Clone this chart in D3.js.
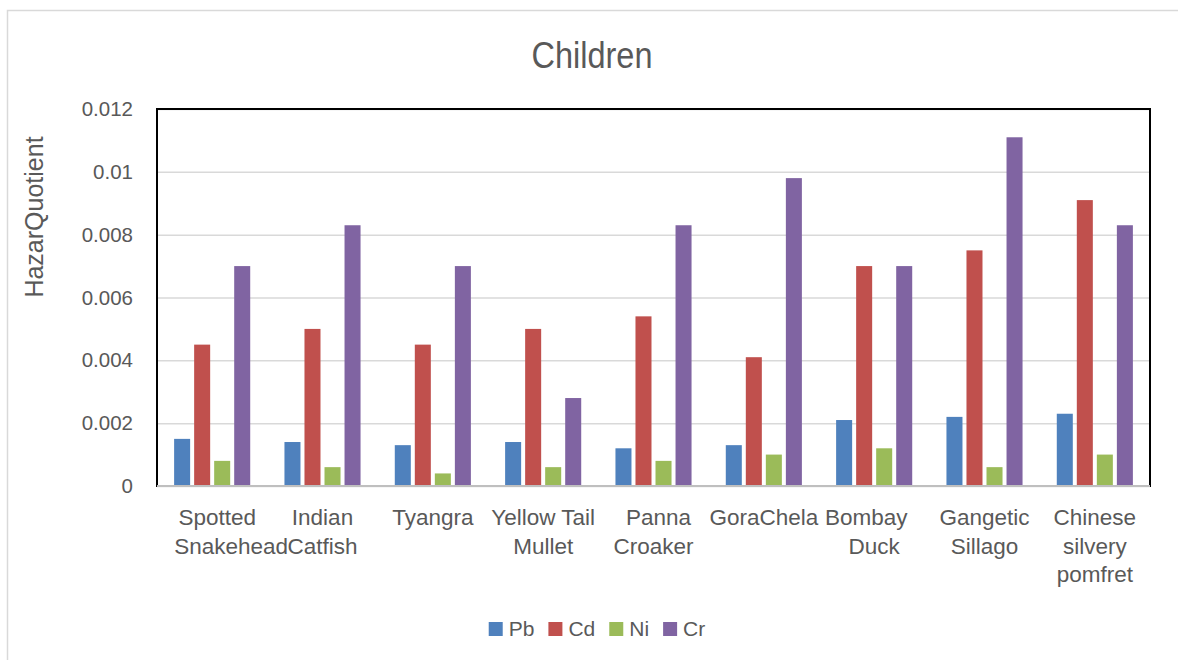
<!DOCTYPE html>
<html>
<head>
<meta charset="utf-8">
<script src="https://cdn.jsdelivr.net/npm/d3@7"></script>
<style>
    body { margin: 0; background: #fff; }
    text { font-family: "Liberation Sans", Arial, sans-serif; fill: #595959; }
</style>
</head>
<body>
<svg id="chart" width="1178" height="660"></svg>
<script>

const categories = ["Spotted Snakehead", "Indian Catfish", "Tyangra", "Yellow Tail Mullet", "Panna Croaker",
    "GoraChela", "Bombay Duck", "Gangetic Sillago", "Chinese silvery pomfret"]
const categoryLines = [["Spotted", "Snakehead"], ["Indian", "Catfish"], ["Tyangra"], ["Yellow Tail", "Mullet"],
    ["Panna", "Croaker"], ["GoraChela"], ["Bombay", "Duck"], ["Gangetic", "Sillago"], ["Chinese", "silvery", "pomfret"]]

const seriesNames = ["Pb", "Cd", "Ni", "Cr"]
const pbValues = [0.0015, 0.0014, 0.0013, 0.0014, 0.0012, 0.0013, 0.0021, 0.0022, 0.0023]
const cdValues = [0.0045, 0.0050, 0.0045, 0.0050, 0.0054, 0.0041, 0.0070, 0.0075, 0.0091]
const niValues = [0.0008, 0.0006, 0.0004, 0.0006, 0.0008, 0.0010, 0.0012, 0.0006, 0.0010]
const crValues = [0.0070, 0.0083, 0.0070, 0.0028, 0.0083, 0.0098, 0.0070, 0.0111, 0.0083]
const yTicks = [0, 0.002, 0.004, 0.006, 0.008, 0.01, 0.012]

const colors = ['#4F81BD', '#C0504D', '#9BBB59', '#8064A2']

// Excel pushes a few wrapped labels sideways, copy that
const labelNudge = { "Spotted": 5, "Snakehead": 19, "Panna": 5, "Bombay": -8 }


function drawChart() {

    const width = 1178
    const height = 660

    const margin = { top: 109, right: 28, bottom: 174, left: 157 };
    const innerWidth = width - margin.left - margin.right;
    const innerHeight = height - margin.top - margin.bottom;

    // build rows from the arrays
    const allValues = [pbValues, cdValues, niValues, crValues]
    const data = categories.map((c, i) => ({
        name: c,
        lines: categoryLines[i],
        values: seriesNames.map((s, j) => ({ key: s, value: allValues[j][i] }))
    }))

    const xScale = d3.scaleBand()
        .domain(categories)
        .range([0, innerWidth])
        .paddingInner(0.274)
        .paddingOuter(0.137);

    const x1Scale = d3.scaleBand()
        .domain(seriesNames)
        .range([0, xScale.bandwidth()])
        .paddingInner(0.2)
        .paddingOuter(0.1);

    const yScale = d3.scaleLinear()
        .domain([0, 0.012])
        .range([innerHeight, 0]);

    const colorScale = d3.scaleOrdinal()
        .domain(seriesNames)
        .range(colors)

    const svg = d3.select('#chart')

    // outer chart border (only top/left visible in the picture)
    svg.append('rect')
        .attr('x', 7.5)
        .attr('y', 10.5)
        .attr('width', 1300)
        .attr('height', 800)
        .attr('fill', 'none')
        .attr('stroke', '#d9d9d9')
        .attr('stroke-width', 1.5)

    svg.append('text')
        .attr('x', 592)
        .attr('y', 68)
        .attr('text-anchor', 'middle')
        .attr('font-size', 37)
        .attr('textLength', 121)
        .attr('lengthAdjust', 'spacingAndGlyphs')
        .text('Children')

    svg.append('text')
        .attr('transform', 'translate(43,217) rotate(-90)')
        .attr('text-anchor', 'middle')
        .attr('font-size', 25)
        .text('HazarQuotient')

    const g = svg.append('g')
        .attr('transform', 'translate(' + margin.left + ',' + margin.top + ')');

    // gridlines + y tick labels
    const yAxis = d3.axisLeft(yScale)
        .tickValues(yTicks)
        .tickSize(-innerWidth)
        .tickPadding(24)
        .tickFormat(d => d === 0 ? '0' : String(+d.toFixed(3)));

    const yG = g.append('g').call(yAxis)
    yG.select('.domain').remove()
    yG.selectAll('line').attr('stroke', '#d9d9d9').attr('stroke-width', 1.5)
    yG.selectAll('text')
        .attr('font-size', 20.5)
        .attr('fill', '#595959')
        .style('font-family', '"Liberation Sans", Arial, sans-serif')

    // plot area border
    g.append('rect')
        .attr('width', innerWidth)
        .attr('height', innerHeight)
        .attr('fill', 'none')
        .attr('stroke', '#000')
        .attr('stroke-width', 2)

    const groups = g.selectAll('.cat')
        .data(data)
        .enter()
        .append('g')
        .attr('class', 'cat')
        .attr('transform', d => 'translate(' + xScale(d.name) + ',0)')

    groups.selectAll('rect')
        .data(d => d.values)
        .enter()
        .append('rect')
        .attr('x', d => x1Scale(d.key))
        .attr('y', d => yScale(d.value))
        .attr('width', x1Scale.bandwidth())
        .attr('height', d => innerHeight - yScale(d.value))
        .attr('fill', d => colorScale(d.key))

    // category axis line
    g.append('line')
        .attr('x1', 0)
        .attr('x2', innerWidth)
        .attr('y1', innerHeight)
        .attr('y2', innerHeight)
        .attr('stroke', '#bfbfbf')
        .attr('stroke-width', 2)

    // category labels, wrapped like the original
    const labels = g.selectAll('.catLabel')
        .data(data)
        .enter()
        .append('text')
        .attr('class', 'catLabel')
        .attr('text-anchor', 'middle')
        .attr('font-size', 22.5)
        .attr('transform', d => 'translate(' + (xScale(d.name) + xScale.bandwidth() / 2) + ',' + (innerHeight + 39) + ')')

    labels.selectAll('tspan')
        .data(d => d.lines)
        .enter()
        .append('tspan')
        .attr('x', d => labelNudge[d] || 0)
        .attr('y', (d, i) => i * 28.5)
        .text(d => d)

    // legend
    const legend = svg.append('g')
    let lx = 0
    seriesNames.forEach((s, i) => {
        const item = legend.append('g').attr('transform', 'translate(' + lx + ',0)')
        item.append('rect')
            .attr('x', 0)
            .attr('y', 622)
            .attr('width', 14)
            .attr('height', 14)
            .attr('fill', colorScale(s))
        const t = item.append('text')
            .attr('x', 20)
            .attr('y', 636)
            .attr('font-size', 21)
            .text(s)
        lx += 20 + t.node().getComputedTextLength() + 14
    })
    const legendWidth = lx - 14
    legend.attr('transform', 'translate(' + (597 - legendWidth / 2) + ',0)')
}

drawChart()

</script>
</body>
</html>
